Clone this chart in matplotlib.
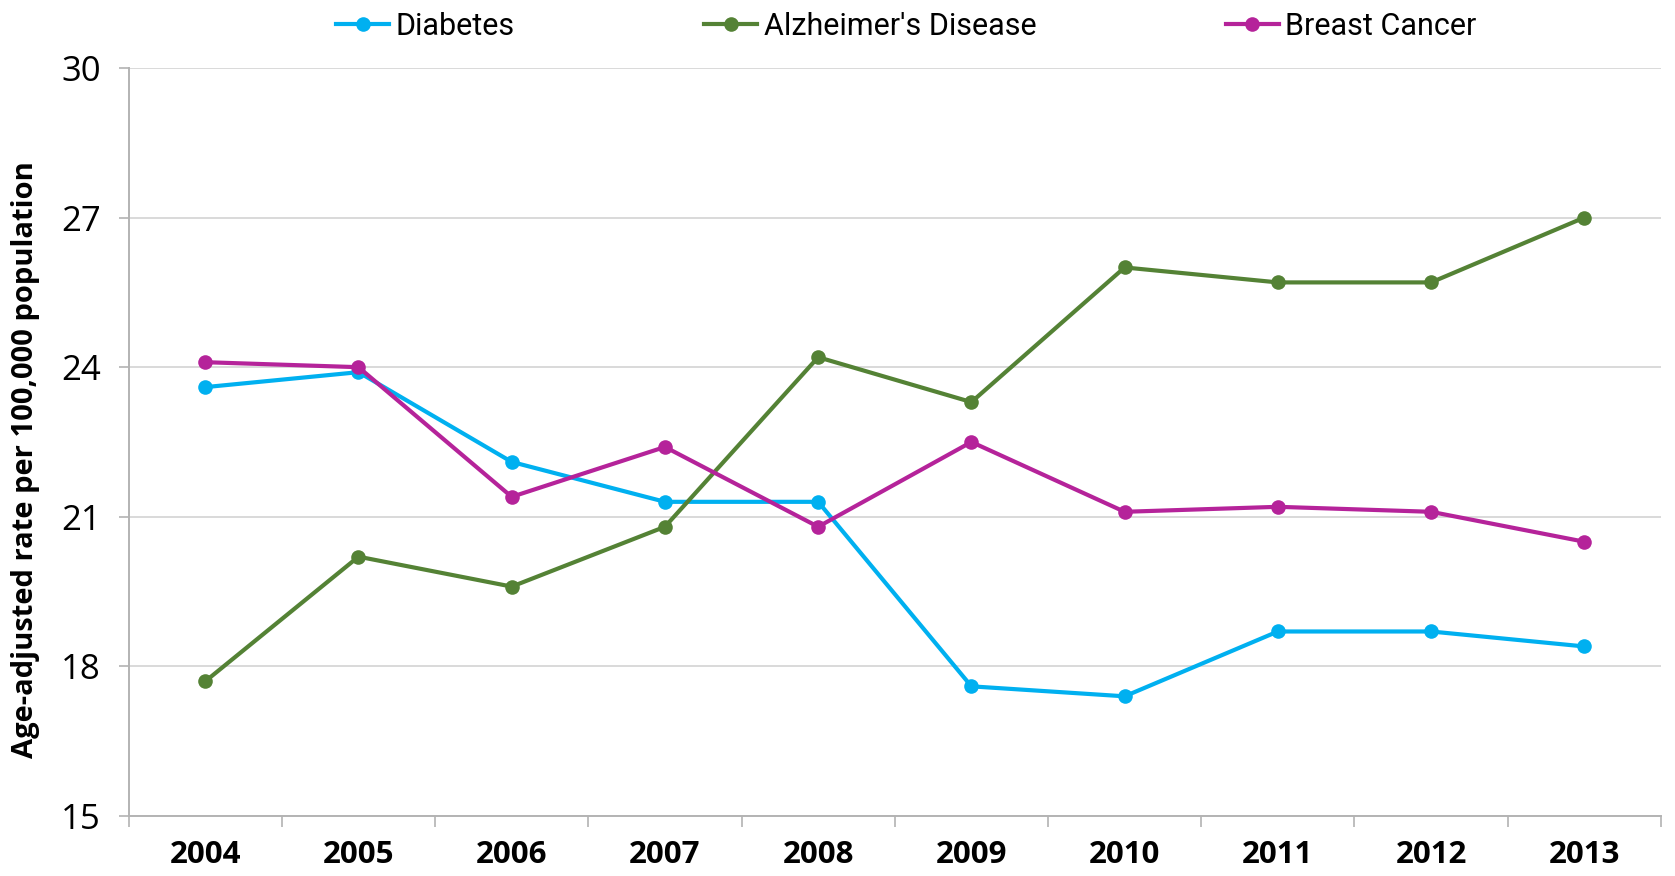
import matplotlib
matplotlib.use("Agg")
import matplotlib.pyplot as plt
from matplotlib.ticker import FixedLocator, NullFormatter

years = ["2004", "2005", "2006", "2007", "2008", "2009", "2010", "2011", "2012", "2013"]
diabetes = [23.6, 23.9, 22.1, 21.3, 21.3, 17.6, 17.4, 18.7, 18.7, 18.4]
alzheimers = [17.7, 20.2, 19.6, 20.8, 24.2, 23.3, 26.0, 25.7, 25.7, 27.0]
breast_cancer = [24.1, 24.0, 21.4, 22.4, 20.8, 22.5, 21.1, 21.2, 21.1, 20.5]
series_names = ["Diabetes", "Alzheimer's Disease", "Breast Cancer"]
series_colors = ["#00b0f0", "#548235", "#b5239a"]
y_ticks = [15, 18, 21, 24, 27, 30]

plt.rcParams["font.family"] = ["Open Sans", "DejaVu Sans"]

fig = plt.figure(figsize=(16.75, 8.76), dpi=100)
ax = fig.add_axes([0.0768, 0.0685, 0.9148, 0.8539])

x = list(range(len(years)))
for vals, name, col in zip([diabetes, alzheimers, breast_cancer], series_names, series_colors):
    ax.plot(x, vals, color=col, lw=3.0, marker="o", markersize=10.5,
            markeredgewidth=0, label=name, solid_joinstyle="round")

ax.set_xlim(-0.5, len(years) - 0.5)
ax.set_ylim(15, 30)
ax.set_yticks(y_ticks)
ax.set_yticklabels([str(v) for v in y_ticks], fontsize=25)
ax.set_xticks(x)
ax.set_xticklabels(years, fontsize=22.5, fontweight="bold")
ax.xaxis.set_minor_locator(FixedLocator([i - 0.5 for i in range(len(years) + 1)]))
ax.xaxis.set_minor_formatter(NullFormatter())
ax.tick_params(axis="x", which="major", length=0, pad=17)
ax.tick_params(axis="x", which="minor", length=8, width=1.2, color="#b3b3b3")
ax.tick_params(axis="y", length=7, width=1.2, color="#b3b3b3", pad=13)

ax.grid(axis="y", color="#d9d9d9", lw=1.4)
ax.set_axisbelow(True)
for s in ["top", "right"]:
    ax.spines[s].set_visible(False)
for s in ["left", "bottom"]:
    ax.spines[s].set_color("#b3b3b3")
    ax.spines[s].set_linewidth(1.4)

ax.set_ylabel("Age-adjusted rate per 100,000 population", fontsize=21,
              fontweight="bold")
ax.yaxis.set_label_coords(-0.058, 0.476)

leg = fig.legend(loc="upper center", bbox_to_anchor=(0.541, 1.018), ncol=3,
                 frameon=False, columnspacing=6.2, handlelength=1.75,
                 handletextpad=0.2,
                 prop={"family": ["Roboto", "Open Sans"], "size": 22})

fig.savefig("out.png", dpi=100)
